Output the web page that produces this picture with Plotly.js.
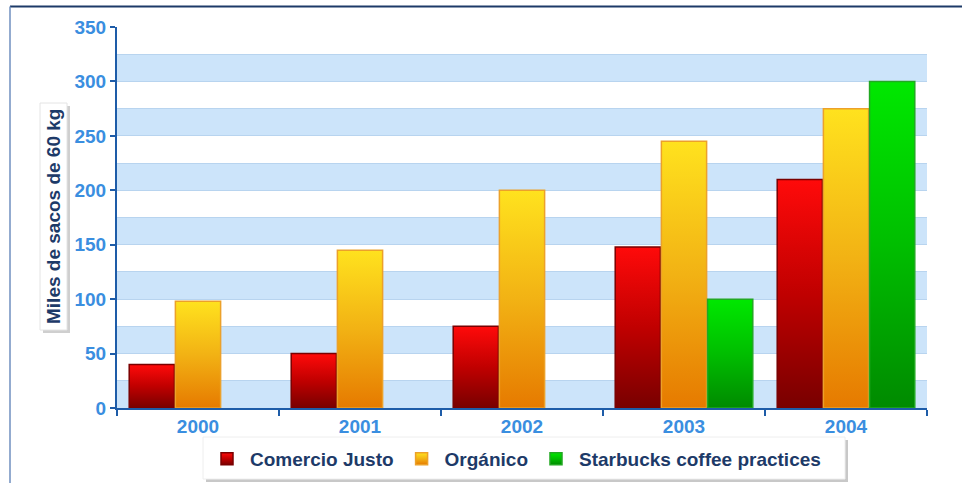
<!DOCTYPE html>
<html>
<head>
<meta charset="utf-8">
<script src="https://cdn.plot.ly/plotly-3.0.1.min.js"></script>
<style>
  html, body { margin: 0; padding: 0; background: #fff; }
  #chart { width: 962px; height: 483px; }
</style>
</head>
<body>
<div id="chart"></div>
<script>
// ---- data ----
const years = ['2000', '2001', '2002', '2003', '2004'];
const comercioJusto = [40, 50, 75, 148, 210];
const organico = [98, 145, 200, 245, 275];
const starbucks = [null, null, null, 100, 300];
const seriesNames = ['Comercio Justo', 'Orgánico', 'Starbucks coffee practices'];
const yTicks = [0, 50, 100, 150, 200, 250, 300, 350];
const yTitle = 'Miles de sacos de 60 kg';

// ---- geometry helpers (pixels -> paper) ----
const L = 117, R = 927, T = 27, B = 408;
const px = x => (x - L) / (R - L);
const py = y => (B - y) / (B - T);

const FONT = 'Liberation Sans, Arial, sans-serif';
const tickBlue = '#3a8ee0';
const axisBlue = '#1e5ca8';
const navy = '#1d3a68';

const traces = [
  { name: seriesNames[0], y: comercioJusto, line: '#7a0000' },
  { name: seriesNames[1], y: organico, line: '#eca12a' },
  { name: seriesNames[2], y: starbucks, line: '#22a822' }
].map(s => ({
  type: 'bar', x: years, y: s.y, name: s.name,
  marker: { color: '#888', line: { color: s.line, width: 1.5 } },
  hoverinfo: 'skip'
}));

const shapes = [];
// alternating bands
for (let v = 0; v < yTicks[yTicks.length - 1]; v += 50) {
  shapes.push({ type: 'rect', xref: 'paper', yref: 'y', x0: 0, x1: 1, y0: v, y1: v + 25,
    fillcolor: '#cce4fa', line: { width: 0 }, layer: 'below' });
}
// outer frame
shapes.push({ type: 'line', xref: 'paper', yref: 'paper', x0: px(10), x1: px(962), y0: py(6.5), y1: py(6.5),
  line: { color: navy, width: 2 } });
shapes.push({ type: 'line', xref: 'paper', yref: 'paper', x0: px(10), x1: px(10), y0: py(6.5), y1: py(483),
  line: { color: '#6f8fbf', width: 1.5 } });
// y-title box with shadow
shapes.push({ type: 'rect', xref: 'paper', yref: 'paper', x0: px(43), x1: px(70), y0: py(106), y1: py(333),
  fillcolor: '#cfcfcf', line: { width: 0 } });
shapes.push({ type: 'rect', xref: 'paper', yref: 'paper', x0: px(40), x1: px(67), y0: py(103), y1: py(330),
  fillcolor: '#ffffff', line: { color: '#e4e4e4', width: 1 } });
// legend box with shadow
shapes.push({ type: 'rect', xref: 'paper', yref: 'paper', x0: px(206), x1: px(848), y0: py(440), y1: py(482),
  fillcolor: '#c8c8c8', line: { width: 0 } });
shapes.push({ type: 'rect', xref: 'paper', yref: 'paper', x0: px(203), x1: px(845), y0: py(437), y1: py(479),
  fillcolor: '#ffffff', line: { color: '#eeeeee', width: 1 } });

const layout = {
  width: 962, height: 483,
  margin: { l: L, r: 962 - R, t: T, b: 483 - B, pad: 0, autoexpand: false },
  paper_bgcolor: '#ffffff', plot_bgcolor: '#ffffff',
  barmode: 'group', bargap: 0.145, bargroupgap: 0.02,
  showlegend: true,
  legend: {
    orientation: 'h', xanchor: 'left', yanchor: 'middle',
    x: px(204), y: py(459), itemwidth: 36,
    bgcolor: 'rgba(0,0,0,0)', borderwidth: 0,
    font: { family: FONT, size: 19, color: navy, weight: 'bold' },
    traceorder: 'normal'
  },
  xaxis: {
    type: 'category', showline: true, linecolor: axisBlue, linewidth: 2,
    ticks: 'outside', tickson: 'boundaries', ticklen: 6, tickcolor: axisBlue, tickwidth: 2,
    tickfont: { family: FONT, size: 19, color: tickBlue, weight: 'bold' },
    showgrid: false, zeroline: false, fixedrange: true
  },
  yaxis: {
    range: [0, 350], tickvals: yTicks, showline: true, linecolor: axisBlue, linewidth: 2,
    ticks: 'outside', ticklen: 5, tickcolor: axisBlue, tickwidth: 2,
    tickfont: { family: FONT, size: 19, color: tickBlue, weight: 'bold' },
    showgrid: true, gridcolor: '#b8d4ef', gridwidth: 1,
    minor: { dtick: 25, showgrid: true, gridcolor: '#b8d4ef', gridwidth: 1 },
    zeroline: false, fixedrange: true
  },
  shapes: shapes,
  annotations: [{
    xref: 'paper', yref: 'paper', x: px(53.5), y: py(216.5), xanchor: 'center', yanchor: 'middle',
    text: yTitle, textangle: -90, showarrow: false,
    font: { family: FONT, size: 19, color: navy, weight: 'bold' }
  }]
};

const gd = document.getElementById('chart');
Plotly.newPlot(gd, traces, layout, { staticPlot: true }).then(() => {
  const NS = 'http://www.w3.org/2000/svg';
  const svg = gd.querySelector('svg.main-svg');
  let defs = svg.querySelector('defs');
  if (!defs) { defs = document.createElementNS(NS, 'defs'); svg.insertBefore(defs, svg.firstChild); }
  const grads = [
    ['gR', [[0, '#ff0a0a'], [0.5, '#c00000'], [1, '#780000']]],
    ['gO', [[0, '#ffe21e'], [0.5, '#f2b214'], [1, '#e67a00']]],
    ['gG', [[0, '#00e800'], [0.5, '#00be00'], [1, '#008a00']]]
  ];
  grads.forEach(([id, stops]) => {
    const g = document.createElementNS(NS, 'linearGradient');
    g.setAttribute('id', id);
    g.setAttribute('x1', '0'); g.setAttribute('y1', '0'); g.setAttribute('x2', '0'); g.setAttribute('y2', '1');
    stops.forEach(([o, c]) => {
      const s = document.createElementNS(NS, 'stop');
      s.setAttribute('offset', o); s.setAttribute('stop-color', c);
      g.appendChild(s);
    });
    defs.appendChild(g);
  });
  const ids = ['gR', 'gO', 'gG'];
  gd.querySelectorAll('.barlayer .trace').forEach((t, i) => {
    t.querySelectorAll('.point path').forEach(p => { p.style.fill = 'url(#' + ids[i] + ')'; });
  });
  gd.querySelectorAll('.legend .traces').forEach((t, i) => {
    t.querySelectorAll('.legendpoints path').forEach(p => { p.style.fill = 'url(#' + ids[i] + ')'; });
  });
});
</script>
</body>
</html>
